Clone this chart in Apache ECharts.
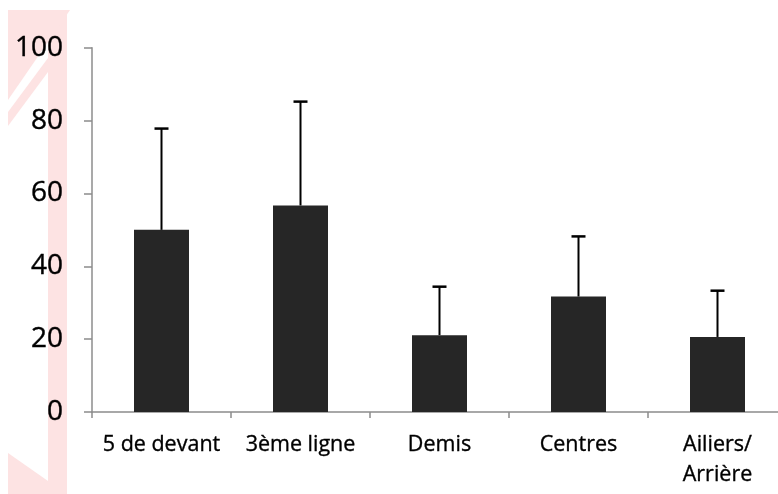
<!DOCTYPE html>
<html><head><meta charset="utf-8">
<script src="https://cdn.jsdelivr.net/npm/echarts@6/dist/echarts.min.js"></script>
<style>html,body{margin:0;padding:0;background:#fff}#c{width:778px;height:494px}</style>
</head><body><div id="c"></div>
<script>
var categories = ['5 de devant', '3ème ligne', 'Demis', 'Centres', 'Ailiers/\nArrière'];
var means = [50, 56.7, 21.1, 31.7, 20.6];
var upper = [77.8, 85.2, 34.4, 48.2, 33.3];
var yTicks = [0, 20, 40, 60, 80, 100];

var chart = echarts.init(document.getElementById('c'), null, {renderer: 'canvas'});
var pink = '#fde3e3';
chart.setOption({
  animation: false,
  backgroundColor: '#fff',
  graphic: [
    {type: 'rect', shape: {x: 48, y: 10, width: 19, height: 484}, style: {fill: pink}, z: -10},
    {type: 'polygon', shape: {points: [[8,10],[70,10],[48,42],[8,100]]}, style: {fill: pink}, z: -10},
    {type: 'polygon', shape: {points: [[8,112],[48,58],[48,72],[8,126]]}, style: {fill: pink}, z: -10},
    {type: 'polygon', shape: {points: [[8,453],[48,481],[48,494],[8,494]]}, style: {fill: pink}, z: -10}
  ],
  grid: {left: 92, width: 695, top: 47.7, height: 364.3, outerBoundsMode: 'none', containLabel: false},
  xAxis: {
    type: 'category', data: categories,
    axisLine: {lineStyle: {color: '#8c8c8c', width: 1.5}},
    axisTick: {show: true, length: 6, lineStyle: {color: '#8c8c8c', width: 1.5}},
    axisLabel: {color: '#000', fontFamily: 'Open Sans', fontSize: 21.5, margin: 18, lineHeight: 30, interval: 0,
      textBorderColor: '#000', textBorderWidth: 0.35}
  },
  yAxis: {
    type: 'value', min: 0, max: 100, interval: 20,
    axisLine: {show: true, lineStyle: {color: '#8c8c8c', width: 1.5}},
    axisTick: {show: true, length: 8, lineStyle: {color: '#8c8c8c', width: 1.5}},
    splitLine: {show: false},
    axisLabel: {color: '#000', fontFamily: 'Open Sans', fontSize: 28, margin: 29,
      textBorderColor: '#000', textBorderWidth: 0.4,
      formatter: function (v) { return yTicks.indexOf(v) >= 0 ? String(v) : ''; }}
  },
  series: [
    {type: 'bar', data: means, barWidth: 55, itemStyle: {color: '#262626'}, z: 2},
    {type: 'custom', z: 3,
      data: categories.map(function (c, i) { return [i, means[i], upper[i]]; }),
      renderItem: function (params, api) {
        var p0 = api.coord([api.value(0), api.value(1)]);
        var p1 = api.coord([api.value(0), api.value(2)]);
        var x = p0[0];
        return {type: 'group', children: [
          {type: 'line', shape: {x1: x, y1: p0[1], x2: x, y2: p1[1]}, style: {stroke: '#000', lineWidth: 2}},
          {type: 'line', shape: {x1: x - 7, y1: p1[1], x2: x + 7, y2: p1[1]}, style: {stroke: '#000', lineWidth: 2.5}}
        ]};
      }
    }
  ]
});
</script></body></html>
